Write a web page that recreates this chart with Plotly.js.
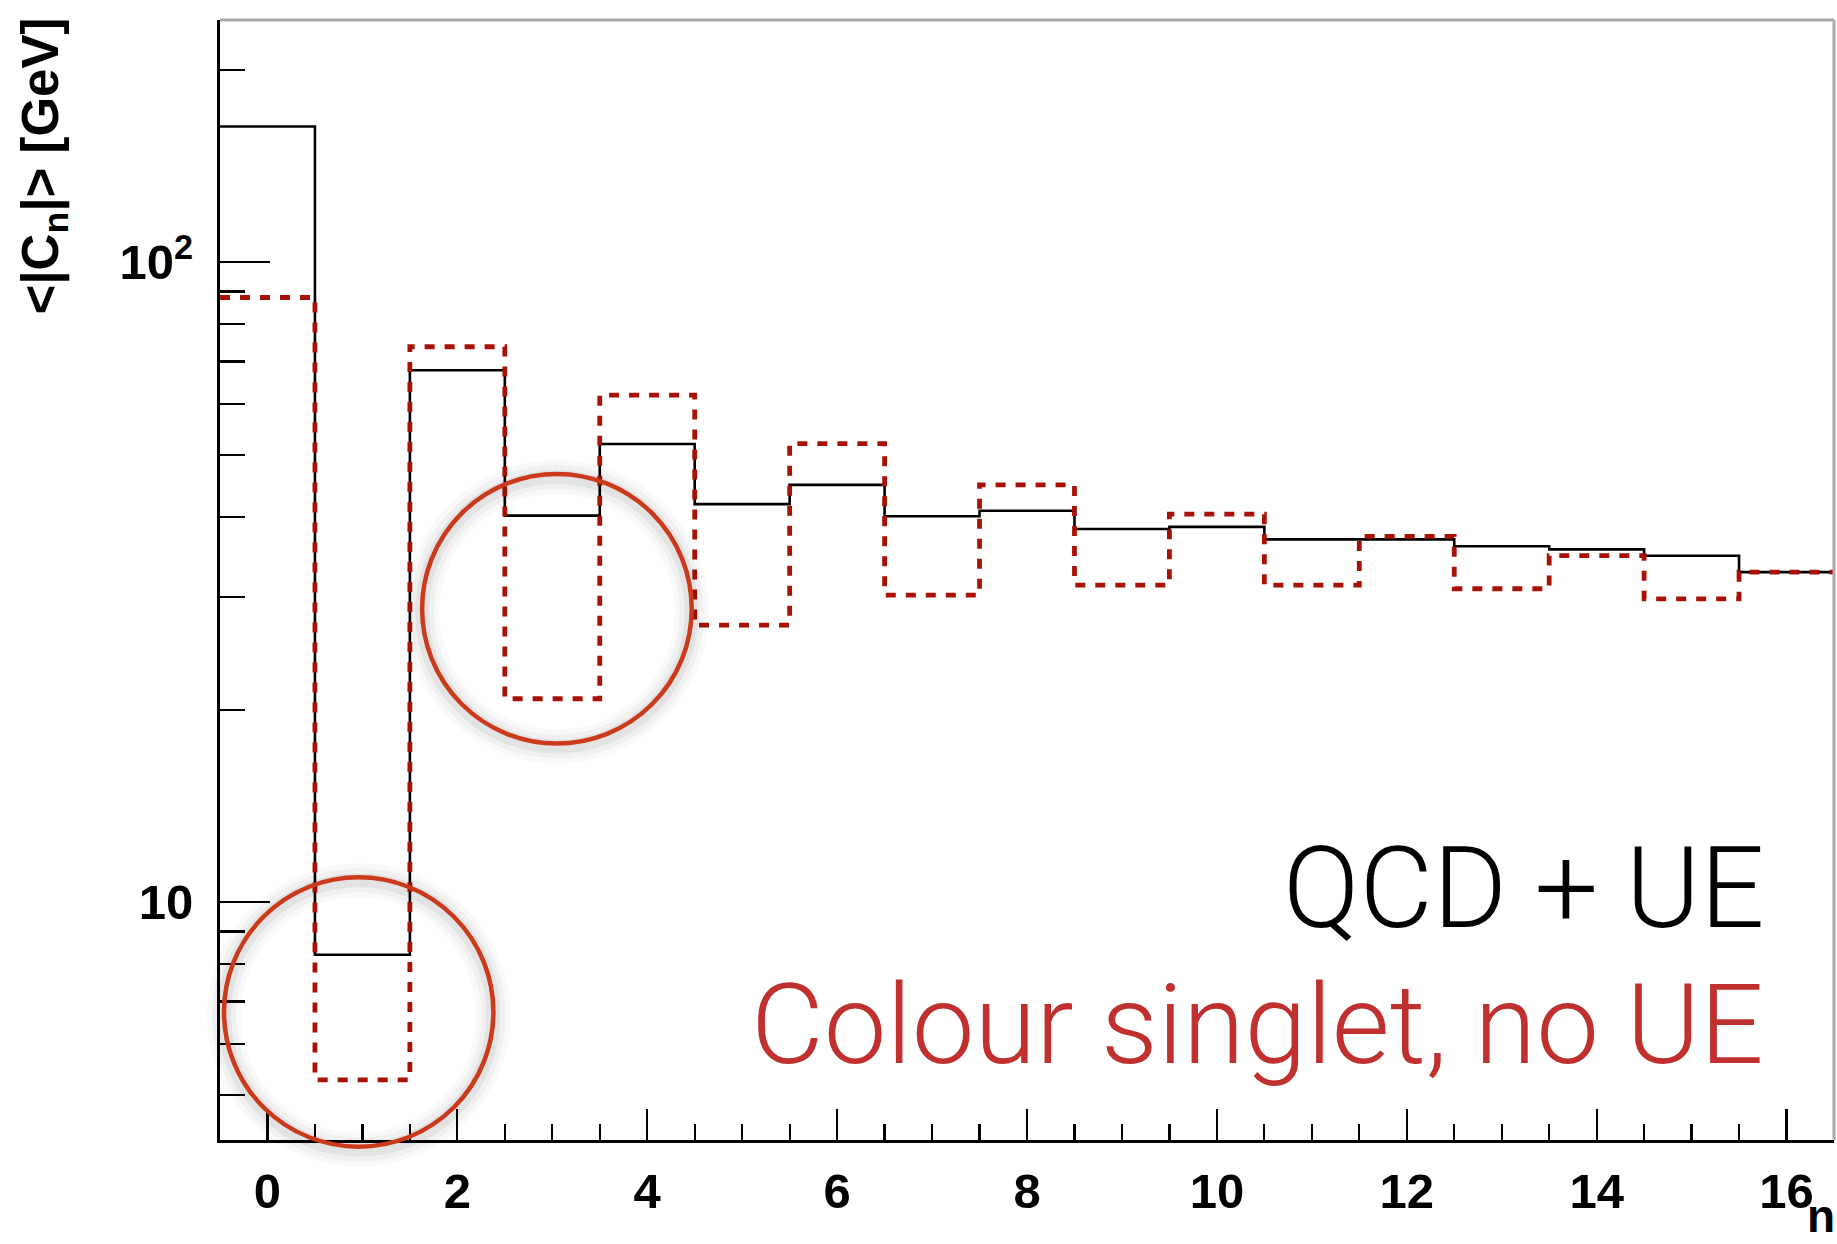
<!DOCTYPE html>
<html>
<head>
<meta charset="utf-8">
<script src="https://cdn.plot.ly/plotly-3.0.1.min.js"></script>
<style>html,body{margin:0;padding:0;background:#fff;}#chart{width:1837px;height:1244px;}</style>
</head>
<body>
<div id="chart"></div>
<script>
// ---- data ----
const nBins = [0,1,2,3,4,5,6,7,8,9,10,11,12,13,14,15,16];
const qcdUE = [163, 8.28, 67.8, 40.2, 52.0, 41.9, 44.9, 40.1, 40.9, 38.3, 38.6, 36.9, 36.9, 36.0, 35.6, 34.8, 32.8];
const singletNoUE = [88.1, 5.28, 73.8, 20.8, 62.0, 27.1, 52.1, 30.2, 44.9, 31.3, 40.4, 31.3, 37.3, 30.9, 34.8, 29.8, 32.8];
const xTickVals = [0,2,4,6,8,10,12,14,16];
const yTickVals = [10, 100];
const yTickText = ['10', '10<sup>2</sup>'];
const yMinorVals = [5,6,7,8,9,20,30,40,50,60,70,80,90,200];
const labelQCD = 'QCD + UE';
const labelSinglet = 'Colour singlet, no UE';

// histogram step outline: lower bin edges + final upper edge
function stepX(bins){ const x = bins.map(b => b - 0.5); x.push(bins[bins.length-1] + 0.5); return x; }
function stepY(vals){ const y = vals.slice(); y.push(vals[vals.length-1]); return y; }

const W = 1837, H = 1244;
const M = {l: 220, r: 3, t: 20, b: 104};
const PW = W - M.l - M.r, PH = H - M.t - M.b;
const px = v => (v - M.l) / PW;
const py = v => (H - M.b - v) / PH;

const traces = [
  {x: stepX(nBins), y: stepY(qcdUE), type: 'scatter', mode: 'lines',
   line: {shape: 'hv', color: '#000000', width: 2.6}, hoverinfo: 'skip', showlegend: false},
  {x: stepX(nBins), y: stepY(singletNoUE), type: 'scatter', mode: 'lines',
   line: {shape: 'hv', color: '#a81206', width: 4.8, dash: '10px,10px'}, hoverinfo: 'skip', showlegend: false}
];

function circleShapes(cx, cy, r){
  const out = [];
  // soft shadow
  [[34,0.025],[24,0.035],[14,0.05]].forEach(([w,a]) => {
    out.push({type:'circle', xref:'paper', yref:'paper', layer:'above',
      x0: px(cx - r), x1: px(cx + r), y0: py(cy + 3 + r), y1: py(cy + 3 - r),
      line:{color:'rgba(0,0,0,'+a+')', width:w}});
  });
  out.push({type:'circle', xref:'paper', yref:'paper', layer:'above',
    x0: px(cx - r), x1: px(cx + r), y0: py(cy + r), y1: py(cy - r),
    line:{color:'#cc3a1c', width:4.5}});
  return out;
}

const shapes = [
  {type:'line', xref:'paper', yref:'paper', x0:0, x1:1, y0:1, y1:1, line:{color:'#aaaaaa', width:3}},
  {type:'line', xref:'paper', yref:'paper', x0:1, x1:1, y0:0, y1:1, line:{color:'#aaaaaa', width:3}}
].concat(circleShapes(358.7, 1012, 134.7)).concat(circleShapes(556.9, 608.7, 134.8));

const boldFont = {family: 'Liberation Sans, Arial, sans-serif', size: 49, color: '#000', weight: 700};

const layout = {
  width: W, height: H, autosize: false,
  margin: M,
  paper_bgcolor: '#fff', plot_bgcolor: '#fff',
  xaxis: {
    type: 'linear', range: [-0.5, 16.5], autorange: false,
    tickmode: 'array', tickvals: xTickVals,
    ticks: 'inside', ticklen: 31, tickwidth: 2.2, tickcolor: '#000',
    minor: {dtick: 0.5, tick0: 0, ticks: 'inside', ticklen: 16, tickwidth: 2.2, tickcolor: '#000'},
    showline: true, linecolor: '#000', linewidth: 3,
    showgrid: false, zeroline: false,
    tickfont: boldFont, ticklabelstandoff: 6
  },
  yaxis: {
    type: 'log', range: [0.6286, 2.3786], autorange: false,
    tickmode: 'array', tickvals: yTickVals, ticktext: yTickText,
    ticks: 'inside', ticklen: 50, tickwidth: 2.2, tickcolor: '#000',
    minor: {tickmode: 'array', tickvals: yMinorVals, ticks: 'inside', ticklen: 25, tickwidth: 2.2, tickcolor: '#000'},
    showline: true, linecolor: '#000', linewidth: 3,
    showgrid: false, zeroline: false,
    tickfont: boldFont, ticklabelstandoff: 14
  },
  shapes: shapes,
  annotations: [
    {text: '&lt;|C<sub>n</sub>|&gt; [GeV]', xref: 'paper', yref: 'paper', x: px(44), y: py(16),
     xanchor: 'center', yanchor: 'top', textangle: -90, showarrow: false,
     font: {family: 'Liberation Sans, Arial, sans-serif', size: 51, color: '#000', weight: 700}},
    {text: 'n', xref: 'paper', yref: 'paper', x: px(1836), y: py(1243),
     xanchor: 'right', yanchor: 'bottom', showarrow: false, borderpad: 0,
     font: {family: 'Liberation Sans, Arial, sans-serif', size: 46, color: '#000', weight: 700}},
    {text: labelQCD, xref: 'paper', yref: 'paper', x: px(1766), y: py(888),
     xanchor: 'right', yanchor: 'middle', showarrow: false,
     font: {family: 'Roboto, Liberation Sans, sans-serif', size: 113, color: '#000', weight: 300}},
    {text: labelSinglet, xref: 'paper', yref: 'paper', x: px(1766), y: py(1024),
     xanchor: 'right', yanchor: 'middle', showarrow: false,
     font: {family: 'Roboto, Liberation Sans, sans-serif', size: 112, color: '#c0302e', weight: 300}}
  ]
};

Plotly.newPlot('chart', traces, layout, {staticPlot: true, displayModeBar: false});
</script>
</body>
</html>
